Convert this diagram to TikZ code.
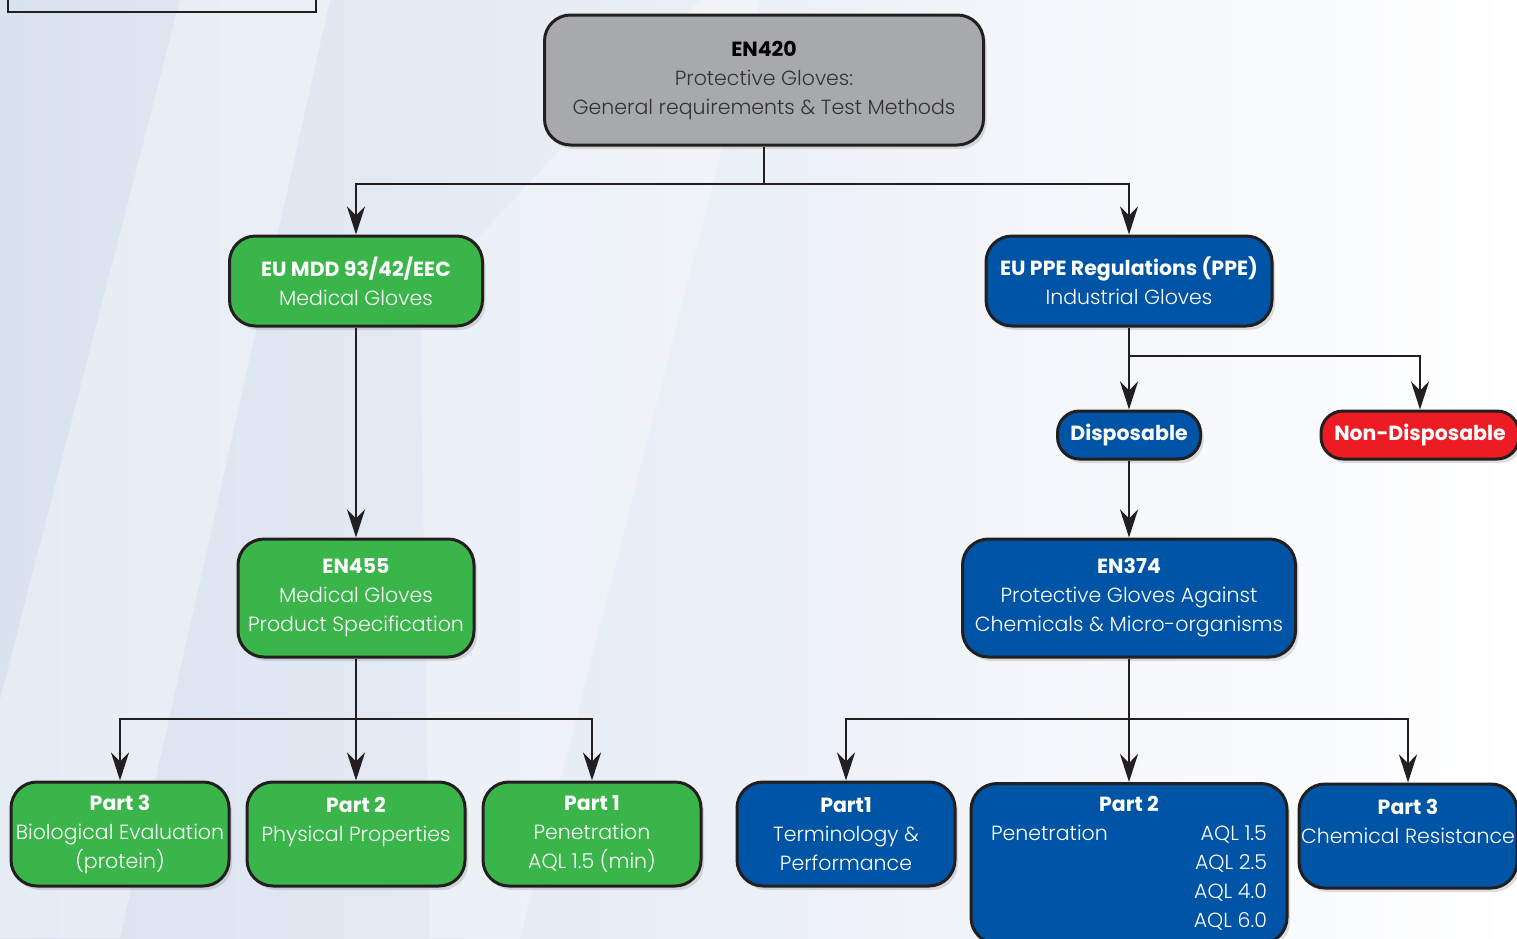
\documentclass[tikz,border=0pt]{standalone}
\usepackage{fontspec}
\setmainfont{Poppins}[UprightFont=* Light, BoldFont=* Bold]
\usetikzlibrary{arrows.meta,shadows}

\definecolor{gloveGreen}{HTML}{39B54A}
\definecolor{gloveBlue}{HTML}{0054A6}
\definecolor{gloveRed}{HTML}{ED1C24}
\definecolor{gloveGray}{HTML}{A7A9AC}
\definecolor{edgeCol}{HTML}{231F20}
\definecolor{bgBlue}{HTML}{D9E2EF}

\tikzset{
  box/.style={draw=edgeCol, line width=3pt, rounded corners=26pt, align=center,
    text=white, inner sep=0pt, font=\fontsize{20.5}{29}\selectfont,
    drop shadow={shadow xshift=3pt, shadow yshift=-4pt, opacity=0.25}},
  greenbox/.style={box, fill=gloveGreen},
  bluebox/.style={box, fill=gloveBlue},
  redbox/.style={box, fill=gloveRed},
  graybox/.style={box, fill=gloveGray, text=black!80},
  pill/.style={rounded corners=22pt, minimum height=48pt},
  part/.style={minimum width=218pt, minimum height=104pt},
  feed/.style={edgeCol, line width=2.5pt, -{Stealth[length=28pt,width=18pt,inset=9pt]}},
  trunk/.style={edgeCol, line width=2.5pt}
}

\begin{document}
\begin{tikzpicture}[x=1pt,y=-1pt]
\useasboundingbox (0,0) rectangle (1517,938);
\fill[left color=bgBlue, right color=white] (0,0) rectangle (1517,938);
\fill[white, opacity=0.35] (180,0) -- (330,0) -- (120,938) -- (0,938) -- (0,700) -- cycle;
\fill[white, opacity=0.3] (420,300) -- (700,0) -- (760,0) -- (520,938) -- (430,938) -- cycle;
\draw[edgeCol, line width=2.5pt] (8,-20) rectangle (316,12);

% top level
\node[graybox, minimum width=439pt, minimum height=130pt] (en420) at (764,80)
  {\textbf{\color{black}EN420}\\Protective Gloves:\\General requirements \& Test Methods};

% regulations
\node[greenbox, minimum width=253pt, minimum height=90pt] (mdd) at (356,281)
  {\textbf{EU MDD 93/42/EEC}\\Medical Gloves};
\node[bluebox, minimum width=286pt, minimum height=90pt] (ppe) at (1129,281)
  {\textbf{EU PPE Regulations (PPE)}\\Industrial Gloves};

\node[bluebox, pill, minimum width=143pt] (disp) at (1129,435) {\textbf{Disposable}};
\node[redbox, pill, minimum width=198pt] (nondisp) at (1420,435) {\textbf{Non-Disposable}};

% standards
\node[greenbox, minimum width=236pt, minimum height=118pt] (en455) at (356,598)
  {\textbf{EN455}\\Medical Gloves\\Product Specification};
\node[bluebox, minimum width=333pt, minimum height=118pt] (en374) at (1129,598)
  {\textbf{EN374}\\Protective Gloves Against\\Chemicals \& Micro-organisms};

% parts
\node[greenbox, part] (bio) at (120,834) {\textbf{Part 3}\\Biological Evaluation\\(protein)};
\node[greenbox, part] (phys) at (356,834) {\textbf{Part 2}\\Physical Properties\\~};
\node[greenbox, part] (pen) at (592,834) {\textbf{Part 1}\\Penetration\\AQL 1.5 (min)};
\node[bluebox, part] (term) at (846,834) {\textbf{Part1}\\Terminology \&\\Performance};
\node[bluebox, minimum width=316pt, minimum height=160pt, anchor=north] (aql) at (1129,782)
  {\begin{tabular}{@{}l@{\hspace{86pt}}r@{}}
   \multicolumn{2}{c}{\textbf{Part 2}}\\
   Penetration & AQL 1.5\\
   & AQL 2.5\\
   & AQL 4.0\\
   & AQL 6.0
   \end{tabular}};
\node[bluebox, part] (chem) at (1408,836) {\textbf{Part 3}\\Chemical Resistance\\~};

% connectors
\coordinate (topfork) at (764,184);
\coordinate (ppefork) at (1129,356);
\coordinate (lfork) at (356,719);
\coordinate (rfork) at (1129,719);

\draw[trunk] (en420) -- (topfork);
\draw[feed] (topfork) -| (mdd);
\draw[feed] (topfork) -| (ppe);

\draw[feed] (ppe) -- (disp);
\draw[feed] (ppefork) -| (nondisp);
\draw[feed] (disp) -- (en374);
\draw[feed] (mdd) -- (en455);

\draw[feed] (en455) -- (phys);
\draw[feed] (lfork) -| (bio);
\draw[feed] (lfork) -| (pen);

\draw[feed] (en374) -- (aql);
\draw[feed] (rfork) -| (term);
\draw[feed] (rfork) -| (chem);
\end{tikzpicture}
\end{document}
